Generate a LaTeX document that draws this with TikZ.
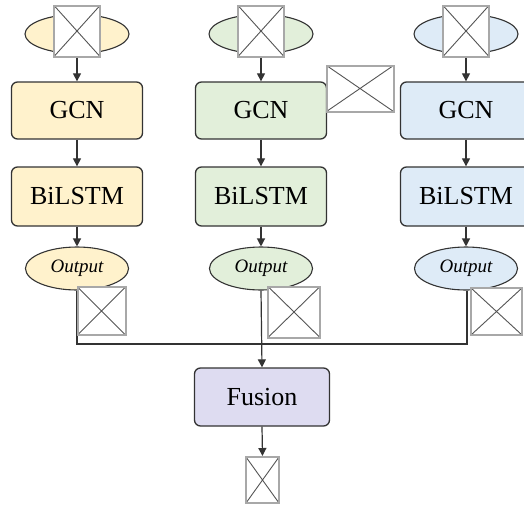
\documentclass[tikz,border=0pt]{standalone}
\usepackage{fontspec}
\setmainfont{Liberation Serif}
\usetikzlibrary{shapes.geometric,arrows.meta}
\definecolor{cA}{HTML}{FFF2CC}
\definecolor{cB}{HTML}{E2EFDA}
\definecolor{cC}{HTML}{DEEBF7}
\definecolor{cF}{HTML}{DEDCF1}
\definecolor{bord}{HTML}{333333}
\definecolor{imgb}{HTML}{A8A8A8}
\definecolor{imgx}{HTML}{555555}
\tikzset{
  blk/.style={draw=bord, line width=1.3pt, rounded corners=6pt, minimum height=57pt,
    inner sep=0pt, font=\fontsize{26}{28}\selectfont},
  ell/.style={ellipse, draw=bord, line width=1.1pt, inner sep=0pt},
  outl/.style={ell, minimum width=103pt, minimum height=43pt, font=\fontsize{19}{21}\selectfont\itshape},
  imgbox/.style={draw=imgb, line width=2pt, fill=white, inner sep=0pt,
    path picture={\draw[imgx, line width=0.9pt]
      (path picture bounding box.north west) -- (path picture bounding box.south east)
      (path picture bounding box.north east) -- (path picture bounding box.south west);}},
  arr/.style={draw=bord, line width=1.2pt, -{Triangle[length=8pt,width=8pt]}},
  ln/.style={draw=bord, line width=1.2pt},
}
\begin{document}
\begin{tikzpicture}[x=1pt,y=-1pt]
\useasboundingbox (0,0) rectangle (524,506);
% columns
\foreach \n/\x/\c in {1/77/cA,2/261/cB,3/466/cC}{
  \node[ell, fill=\c, minimum width=104pt, minimum height=39pt] (in\n) at (\x,34) {};
  \node[blk, fill=\c, minimum width=131pt] (gcn\n) at (\x,110.5) {GCN};
  \node[blk, fill=\c, minimum width=131pt, minimum height=59pt] (lstm\n) at (\x,196.5) {BiLSTM};
  \node[outl, fill=\c] (out\n) at (\x,268.5) {Output};
  \draw[arr] (in\n.south) -- (gcn\n.north);
  \draw[arr] (gcn\n.south) -- (lstm\n.north);
  \draw[arr] (lstm\n.south) -- (out\n.north);
  \node[imgbox, minimum width=46pt, minimum height=51pt] (img\n) at (\x,31) {};
}
\node[blk, fill=cF, minimum width=135pt, minimum height=58pt] (fus) at (262,397) {Fusion};
\node[imgbox, minimum width=33pt, minimum height=46pt] (fin) at (262.5,480) {};
\coordinate (j1) at (77,344);
\coordinate (j3) at (467,344);
\draw[ln] (out1.south) -- (j1) -- (j3) -- (out3.south -| j3);
\draw[arr] (out2.south) -- (fus.north);
\draw[arr] (fus.south) -- (fin.north);
\node[imgbox, minimum width=48pt, minimum height=48pt] (oimg1) at (101.5,311) {};
\node[imgbox, minimum width=52pt, minimum height=51pt] (oimg2) at (294,312) {};
\node[imgbox, minimum width=51pt, minimum height=47pt] (oimg3) at (496.5,311.5) {};
\node[imgbox, minimum width=67pt, minimum height=46pt] (gimg) at (360,88.5) {};
\end{tikzpicture}
\end{document}
